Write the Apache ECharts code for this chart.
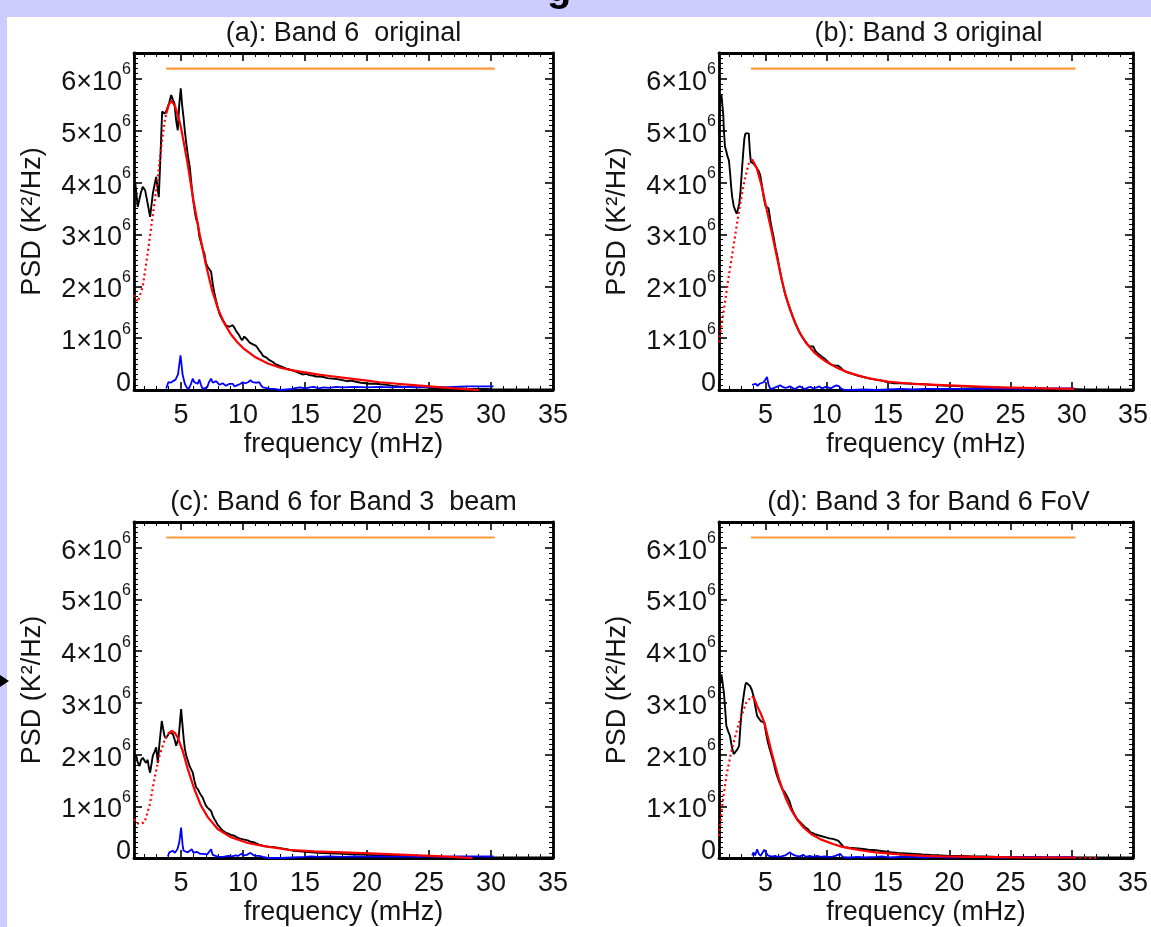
<!DOCTYPE html>
<html><head><meta charset="utf-8">
<script src="https://cdn.jsdelivr.net/npm/echarts@6/dist/echarts.min.js"></script>
<style>html,body{margin:0;padding:0;background:#fff;}#c{width:1151px;height:927px;}</style>
</head><body><div id="c"></div>
<script>
// PSD values in units of 10^6 K^2/Hz, frequency in mHz: [f, psd]
const xTickLabels = [5, 10, 15, 20, 25, 30, 35];
const yTickLabels = [0, 1, 2, 3, 4, 5, 6];
const titles = ['(a): Band 6  original', '(b): Band 3 original', '(c): Band 6 for Band 3  beam', '(d): Band 3 for Band 6 FoV'];
const fitRange = [3.8, 30.3];   // orange bar
const fitLevel = 6.2;

const blackA = [[1.2,3.9],[1.3,4.0],[1.5,3.53],[1.75,3.8],[1.91,3.92],[2.1,3.85],[2.3,3.6],[2.5,3.34],[2.72,3.79],[2.85,3.95],[2.99,4.11],[3.1,3.9],[3.2,3.72],[3.35,4.6],[3.47,5.37],[3.66,5.33],[3.8,5.38],[3.93,5.46],[4.05,5.55],[4.2,5.69],[4.33,5.6],[4.46,5.53],[4.6,5.2],[4.73,5.01],[4.85,5.5],[4.97,5.82],[5.08,5.5],[5.19,5.27],[5.3,5.0],[5.42,4.75],[5.56,4.5],[5.7,4.3],[5.82,4.0],[5.94,3.72],[6.1,3.45],[6.21,3.3],[6.34,3.21],[6.48,2.95],[6.6,2.85],[6.74,2.72],[6.88,2.63],[7.0,2.45],[7.15,2.37],[7.28,2.33],[7.42,2.28],[7.55,2.05],[7.69,1.86],[7.82,1.72],[7.95,1.6],[8.1,1.47],[8.23,1.4],[8.36,1.34],[8.5,1.3],[8.63,1.24],[8.76,1.21],[8.9,1.22],[9.03,1.2],[9.16,1.25],[9.3,1.2],[9.43,1.14],[9.57,1.12],[9.7,1.05],[9.8,1.0],[9.92,0.96],[10.0,0.98],[10.1,1.03],[10.2,1.0],[10.35,0.97],[10.5,0.92],[10.65,0.93],[10.8,0.88],[10.9,0.88],[11.05,0.85],[11.2,0.8],[11.3,0.76],[11.45,0.72],[11.6,0.66],[11.7,0.63],[11.85,0.63],[11.97,0.6],[12.1,0.58],[12.25,0.56],[12.4,0.54],[12.6,0.5],[12.9,0.47],[13.2,0.44],[13.5,0.41],[13.8,0.39],[14.0,0.38],[14.3,0.35],[14.5,0.33],[14.8,0.3],[15.1,0.31],[15.3,0.29],[15.6,0.28],[15.9,0.26],[16.15,0.26],[16.5,0.25],[16.8,0.23],[17.2,0.22],[17.6,0.21],[18.0,0.19],[18.4,0.17],[18.7,0.18],[19.1,0.16],[19.5,0.14],[19.9,0.13],[20.2,0.12],[20.7,0.12],[21.1,0.11],[21.6,0.1],[22.1,0.08],[22.6,0.07],[23.1,0.06],[23.6,0.06],[24.1,0.05],[24.6,0.05],[25.1,0.04],[25.6,0.04],[26.1,0.04],[26.6,0.03],[27.1,0.03],[27.6,0.03],[28.1,0.02],[28.6,0.02],[29.1,0.02],[29.6,0.02],[30.2,0.01],[31,0.01],[32,0.01],[33,0.01],[34,0.01],[35,0.01]];
const redDotA = [[1.2,1.83],[1.5,1.7],[1.9,1.99],[2.3,2.63],[2.7,3.34],[3.1,4.05],[3.4,4.69],[3.65,5.15],[3.8,5.33]];
const redA = [[3.8,5.33],[4.0,5.5],[4.2,5.58],[4.5,5.48],[4.8,5.25],[5.0,5.05],[5.5,4.4],[6.0,3.65],[6.5,3.0],[7.0,2.42],[7.5,1.92],[8.0,1.55],[8.5,1.28],[9.0,1.08],[9.5,0.93],[10,0.81],[11,0.63],[12,0.51],[13,0.43],[14,0.38],[15,0.34],[16,0.3],[17,0.27],[18,0.24],[19,0.21],[20,0.18],[21,0.15],[22,0.13],[23,0.11],[24,0.09],[25,0.07],[26,0.05],[27,0.03],[28,0.015],[29,0.0]];
const blueA = [[3.8,0.03],[3.97,0.15],[4.15,0.14],[4.3,0.12],[4.55,0.2],[4.75,0.3],[4.95,0.67],[5.12,0.3],[5.3,0.12],[5.45,0.05],[5.62,0.02],[5.8,0.12],[5.94,0.22],[6.07,0.15],[6.2,0.18],[6.33,0.12],[6.47,0.2],[6.6,0.1],[6.74,0.02],[6.9,0.02],[7.1,0.05],[7.25,0.15],[7.42,0.22],[7.55,0.14],[7.69,0.12],[7.82,0.17],[7.96,0.15],[8.1,0.1],[8.2,0.09],[8.35,0.13],[8.5,0.13],[8.63,0.08],[8.76,0.07],[8.9,0.12],[9.03,0.1],[9.16,0.12],[9.3,0.07],[9.43,0.05],[9.6,0.1],[9.8,0.12],[9.97,0.15],[10.1,0.12],[10.2,0.13],[10.4,0.15],[10.6,0.19],[10.75,0.15],[10.9,0.12],[11.1,0.14],[11.3,0.15],[11.45,0.09],[11.6,0.05],[11.8,0.04],[12.0,0.03],[12.2,0.02],[12.5,0.02],[13,0.0],[13.5,0.01],[14.0,0.02],[14.3,0.04],[14.6,0.05],[15,0.03],[15.4,0.05],[15.7,0.06],[16.1,0.03],[16.5,0.05],[17,0.04],[17.5,0.06],[18,0.05],[19,0.06],[20,0.05],[21,0.06],[22,0.05],[23,0.06],[24,0.05],[25,0.06],[26,0.05],[27,0.06],[28,0.07],[29,0.07],[30.2,0.07]];

const blackB = [[1.2,4.95],[1.3,5.6],[1.4,5.69],[1.47,5.69],[1.55,5.3],[1.6,5.0],[1.69,4.69],[1.8,4.6],[1.9,4.5],[2.01,4.43],[2.1,4.2],[2.2,3.9],[2.28,3.72],[2.4,3.55],[2.55,3.45],[2.65,3.4],[2.76,3.4],[2.86,3.6],[2.96,3.85],[3.06,4.2],[3.17,4.56],[3.27,4.85],[3.36,4.95],[3.5,4.95],[3.63,4.95],[3.72,4.6],[3.8,4.4],[3.9,4.38],[4.0,4.37],[4.15,4.33],[4.3,4.3],[4.45,4.22],[4.57,4.14],[4.7,3.95],[4.85,3.72],[4.95,3.6],[5.0,3.55],[5.12,3.56],[5.25,3.5],[5.39,3.27],[5.52,3.1],[5.66,2.95],[5.8,2.75],[5.93,2.62],[6.06,2.45],[6.2,2.27],[6.35,2.1],[6.5,1.95],[6.65,1.82],[6.8,1.7],[6.95,1.6],[7.1,1.5],[7.25,1.4],[7.42,1.3],[7.6,1.2],[7.8,1.1],[8.0,1.02],[8.2,0.95],[8.4,0.88],[8.6,0.84],[8.75,0.86],[8.9,0.84],[9.05,0.76],[9.2,0.72],[9.4,0.68],[9.6,0.64],[9.85,0.6],[10.1,0.54],[10.3,0.5],[10.5,0.48],[10.7,0.47],[10.9,0.47],[11.1,0.44],[11.3,0.39],[11.5,0.36],[11.8,0.33],[12.1,0.31],[12.5,0.28],[13,0.25],[13.5,0.22],[14,0.2],[14.5,0.18],[15,0.15],[15.5,0.13],[16,0.13],[17,0.12],[18,0.11],[19,0.09],[20,0.08],[21,0.07],[22,0.06],[23,0.05],[24,0.05],[25,0.04],[26,0.03],[27,0.03],[28,0.02],[29,0.02],[30,0.02],[31,0.01],[32,0.01],[33,0.01],[34,0.01],[35,0.01]];
const redDotB = [[1.2,0.92],[1.6,1.55],[2.0,2.2],[2.4,2.8],[2.8,3.4],[3.2,3.95],[3.6,4.35],[3.9,4.45]];
const redB = [[3.9,4.45],[4.0,4.43],[4.3,4.27],[4.7,3.92],[5.1,3.47],[5.5,3.05],[5.9,2.6],[6.3,2.15],[6.6,1.85],[7.0,1.55],[7.4,1.3],[7.8,1.1],[8.2,0.95],[8.6,0.83],[9.0,0.72],[9.5,0.62],[10.0,0.54],[10.5,0.47],[11,0.41],[11.5,0.36],[12,0.32],[13,0.25],[14,0.2],[15,0.16],[16,0.14],[17,0.12],[18,0.11],[19,0.1],[20,0.09],[22,0.07],[24,0.05],[26,0.04],[28,0.03],[30.2,0.02]];
const blueB = [[3.9,0.1],[4.04,0.1],[4.2,0.12],[4.35,0.08],[4.5,0.12],[4.65,0.1],[4.85,0.15],[5.0,0.18],[5.12,0.25],[5.25,0.1],[5.39,0.02],[5.6,0.03],[5.8,0.05],[6.0,0.07],[6.2,0.09],[6.4,0.06],[6.6,0.04],[6.8,0.05],[7.0,0.07],[7.2,0.04],[7.4,0.02],[7.6,0.05],[7.8,0.07],[8.0,0.04],[8.2,0.02],[8.5,0.05],[8.7,0.06],[8.9,0.03],[9.2,0.05],[9.4,0.07],[9.6,0.03],[9.9,0.06],[10.1,0.05],[10.3,0.03],[10.6,0.07],[10.8,0.09],[11.0,0.07],[11.2,0.02],[11.5,0.0],[12,0.0],[13,0.01],[14,0.0],[15,0.01],[16,0.02],[17,0.01],[18,0.02],[20,0.02],[22,0.02],[24,0.03],[26,0.02],[28,0.03],[30.2,0.03]];

const blackC = [[1.2,1.95],[1.38,1.98],[1.5,1.85],[1.64,1.78],[1.78,1.9],[1.91,1.94],[2.05,1.88],[2.18,1.84],[2.3,1.9],[2.4,1.75],[2.5,1.65],[2.6,1.8],[2.72,1.98],[2.85,2.05],[2.99,2.14],[3.12,1.84],[3.25,2.2],[3.44,2.65],[3.55,2.5],[3.66,2.36],[3.76,2.32],[3.85,2.3],[3.95,2.38],[4.06,2.43],[4.2,2.42],[4.33,2.4],[4.47,2.3],[4.6,2.17],[4.7,2.25],[4.79,2.3],[4.9,2.6],[5.0,2.88],[5.1,2.6],[5.21,2.3],[5.3,2.12],[5.41,1.98],[5.55,1.88],[5.68,1.78],[5.8,1.72],[5.94,1.65],[6.07,1.5],[6.21,1.37],[6.35,1.33],[6.48,1.27],[6.6,1.22],[6.74,1.17],[6.88,1.08],[7.01,1.01],[7.15,0.97],[7.28,0.95],[7.42,0.91],[7.55,0.82],[7.69,0.75],[7.82,0.7],[7.95,0.64],[8.1,0.6],[8.23,0.56],[8.4,0.52],[8.6,0.49],[8.76,0.47],[8.9,0.46],[9.1,0.44],[9.3,0.43],[9.5,0.4],[9.7,0.38],[9.84,0.37],[10.0,0.36],[10.2,0.35],[10.37,0.34],[10.55,0.32],[10.7,0.33],[10.9,0.3],[11.1,0.28],[11.3,0.26],[11.44,0.24],[11.7,0.23],[12.0,0.22],[12.5,0.21],[13.0,0.19],[13.5,0.17],[14.1,0.14],[14.6,0.13],[15.0,0.12],[15.5,0.11],[16,0.1],[17,0.09],[18,0.08],[19,0.07],[20,0.06],[21,0.05],[22,0.05],[23,0.04],[24,0.03],[25,0.03],[26,0.02],[27,0.02],[28,0.02],[29,0.01],[30,0.01],[31,0.01],[32,0.01],[33,0.01],[34,0.01],[35,0.01]];
const redDotC = [[1.2,0.75],[1.4,0.68],[1.64,0.66],[2.05,0.69],[2.45,1.01],[2.85,1.53],[3.25,1.98],[3.66,2.27],[3.93,2.4]];
const redC = [[3.93,2.4],[4.25,2.46],[4.5,2.42],[4.73,2.33],[5.13,2.07],[5.54,1.72],[6.07,1.33],[6.61,1.01],[7.15,0.79],[7.95,0.56],[9.03,0.4],[10.37,0.29],[11.7,0.23],[13.6,0.16],[15.74,0.13],[18,0.11],[20.2,0.09],[23.1,0.06],[26.1,0.03],[28.5,0.0]];
const blueC = [[3.93,0.03],[4.05,0.11],[4.33,0.14],[4.5,0.1],[4.7,0.17],[4.85,0.3],[5.0,0.59],[5.12,0.25],[5.2,0.14],[5.35,0.12],[5.54,0.11],[5.7,0.08],[5.86,0.17],[6.0,0.1],[6.1,0.08],[6.25,0.12],[6.4,0.14],[6.55,0.08],[6.67,0.05],[6.8,0.08],[6.95,0.1],[7.1,0.07],[7.25,0.1],[7.42,0.17],[7.55,0.06],[7.7,0.03],[8.0,0.02],[8.4,0.02],[8.8,0.04],[9.1,0.03],[9.4,0.05],[9.6,0.04],[9.84,0.08],[10.1,0.05],[10.3,0.06],[10.6,0.1],[10.8,0.06],[11.0,0.04],[11.3,0.04],[11.6,0.02],[12,0.0],[13,0.0],[14,0.01],[15,0.02],[15.5,0.03],[16,0.02],[17,0.03],[18,0.02],[19,0.03],[20,0.02],[21,0.03],[22,0.02],[23,0.03],[24,0.02],[25,0.03],[26,0.02],[27,0.03],[28,0.03],[29,0.03],[30.2,0.03]];

const blackD = [[1.2,3.05],[1.3,3.4],[1.4,3.55],[1.51,3.55],[1.6,3.2],[1.66,3.01],[1.8,2.56],[1.95,2.45],[2.1,2.36],[2.25,2.15],[2.4,2.01],[2.55,2.03],[2.7,2.1],[2.84,2.17],[2.95,2.55],[3.05,2.85],[3.14,3.01],[3.25,3.2],[3.35,3.35],[3.43,3.39],[3.58,3.37],[3.73,3.33],[3.88,3.25],[4.02,3.13],[4.15,2.95],[4.31,2.75],[4.46,2.7],[4.61,2.65],[4.76,2.64],[4.9,2.62],[5.05,2.4],[5.2,2.23],[5.35,2.1],[5.5,1.98],[5.65,1.85],[5.8,1.7],[5.94,1.59],[6.1,1.48],[6.25,1.4],[6.38,1.33],[6.55,1.28],[6.7,1.22],[6.83,1.2],[6.95,1.1],[7.1,0.98],[7.27,0.88],[7.42,0.82],[7.56,0.76],[7.7,0.72],[7.86,0.69],[8.0,0.65],[8.2,0.6],[8.45,0.56],[8.65,0.5],[8.85,0.48],[9.04,0.46],[9.3,0.44],[9.6,0.42],[9.93,0.4],[10.2,0.38],[10.5,0.37],[10.75,0.35],[10.95,0.33],[11.1,0.3],[11.25,0.25],[11.4,0.21],[11.8,0.2],[12.3,0.19],[12.8,0.18],[13.4,0.16],[14.0,0.15],[14.6,0.13],[15.2,0.11],[15.8,0.1],[16.5,0.09],[17.2,0.08],[17.8,0.07],[18.5,0.06],[19.3,0.05],[20,0.04],[21,0.04],[22,0.03],[23,0.03],[24,0.02],[25,0.02],[26,0.02],[27,0.02],[28,0.01],[29,0.01],[30,0.01],[31,0.01],[32,0.01],[33,0.01],[34,0.01],[35,0.01]];
const redDotD = [[1.2,0.43],[1.5,1.08],[1.8,1.59],[2.25,2.11],[2.84,2.62],[3.43,3.01],[3.88,3.13]];
const redD = [[3.88,3.13],[4.1,3.08],[4.31,2.94],[4.6,2.8],[4.9,2.62],[5.2,2.33],[5.5,2.04],[5.8,1.78],[6.09,1.53],[6.4,1.32],[6.68,1.14],[7.1,0.93],[7.56,0.75],[8.1,0.59],[8.74,0.46],[9.5,0.36],[10.5,0.27],[11.2,0.22],[12.0,0.18],[13,0.14],[14,0.11],[15,0.09],[16.4,0.06],[18,0.04],[19.3,0.03],[22.3,0.02],[26,0.01],[30.2,0.01]];
const redDotTailD = [[30.2,0.01],[32,0.0]];
const blueD = [[3.9,0.05],[4.02,0.11],[4.15,0.05],[4.31,0.17],[4.45,0.08],[4.6,0.04],[4.75,0.1],[4.9,0.16],[5.05,0.1],[5.2,0.05],[5.4,0.03],[5.6,0.03],[5.8,0.04],[6.0,0.02],[6.3,0.03],[6.6,0.05],[7.0,0.11],[7.2,0.07],[7.5,0.04],[7.8,0.03],[8.1,0.06],[8.3,0.02],[8.6,0.04],[8.9,0.02],[9.2,0.04],[9.5,0.02],[9.8,0.03],[10.1,0.02],[10.4,0.02],[10.7,0.04],[11.1,0.08],[11.3,0.02],[11.6,0.01],[12,0.01],[12.5,0.02],[13,0.01],[14,0.02],[14.5,0.03],[15,0.01],[16,0.02],[17,0.02],[18,0.01],[19,0.02],[20,0.01],[22,0.02],[24,0.01],[26,0.02],[28,0.01],[30.2,0.02]];

const FONT = 'Liberation Sans, Arial, Helvetica, sans-serif';
const TXT = '#141414';
const FS = 27;
const panels = [
  { title: titles[0], black: blackA, redDot: [redDotA], red: redA, blue: blueA, left: 134, top: 53 },
  { title: titles[1], black: blackB, redDot: [redDotB], red: redB, blue: blueB, left: 719, top: 53 },
  { title: titles[2], black: blackC, redDot: [redDotC], red: redC, blue: blueC, left: 134, top: 522 },
  { title: titles[3], black: blackD, redDot: [redDotD, redDotTailD], red: redD, blue: blueD, left: 719, top: 522 }
];
const W = 419, H = 337;

const grids = [], xAxes = [], yAxes = [], series = [], graphics = [];
graphics.push({ type: 'rect', shape: { x: 7, y: 17, width: 1144, height: 910 }, style: { fill: '#ffffff' }, z: -100, silent: true });
graphics.push({ type: 'text', x: 547, y: -30, style: { text: 'g', font: 'bold 40px ' + FONT, fill: '#000' }, z: -50, silent: true });
graphics.push({ type: 'polygon', shape: { points: [[0, 675], [9, 681], [0, 687]] }, style: { fill: '#000' }, z: -50, silent: true });

const xFmt = v => (xTickLabels.indexOf(Math.round(v * 1000) / 1000) >= 0 ? String(v) : '');
const yFmt = v => {
  const r = Math.round(v * 1000) / 1000;
  if (yTickLabels.indexOf(r) < 0) return '';
  if (r === 0) return '{z|0}';
  return '{m|' + r + '\u00d710}{s|6}';
};
const lineAxis = { show: true, onZero: false, lineStyle: { color: '#000', width: 2.8 } };
const tick = { show: true, inside: true, length: 8, lineStyle: { color: '#000', width: 1.6 } };

panels.forEach((p, i) => {
  grids.push({ left: p.left, top: p.top, width: W, height: H, containLabel: false });
  const xBase = { type: 'value', gridIndex: i, min: 1.2, max: 35, splitNumber: 7, splitLine: { show: false },
    axisLine: lineAxis, axisTick: tick,
    minorTick: { show: true, splitNumber: 5, length: 4, lineStyle: { color: '#000', width: 1 } } };
  xAxes.push(Object.assign({}, xBase, { position: 'bottom',
    axisLabel: { show: true, formatter: xFmt, fontSize: FS, fontFamily: FONT, color: TXT, margin: 12 },
    name: 'frequency (mHz)', nameLocation: 'middle', nameGap: 41,
    nameTextStyle: { fontSize: FS, fontFamily: FONT, color: TXT } }));
  xAxes.push(Object.assign({}, xBase, { position: 'top', axisLabel: { show: false } }));
  const yBase = { type: 'value', gridIndex: i, min: 0, max: 6.5, interval: 1, splitLine: { show: false },
    axisLine: lineAxis, axisTick: tick,
    minorTick: { show: true, splitNumber: 10, length: 4, lineStyle: { color: '#000', width: 1 } } };
  yAxes.push(Object.assign({}, yBase, { position: 'left',
    axisLabel: { show: true, formatter: yFmt, margin: 3, color: TXT, fontFamily: FONT,
      rich: {
        z: { fontSize: FS, fontFamily: FONT, color: TXT, padding: [0, 0, 12, 0] },
        m: { fontSize: FS, fontFamily: FONT, color: TXT, lineHeight: 34, verticalAlign: 'bottom' },
        s: { fontSize: 16, fontFamily: FONT, color: TXT, lineHeight: 34, verticalAlign: 'top' }
      } },
    name: 'PSD (K\u00b2/Hz)', nameLocation: 'middle', nameGap: 88, nameRotate: 90,
    nameTextStyle: { fontSize: FS, fontFamily: FONT, color: TXT } }));
  yAxes.push(Object.assign({}, yBase, { position: 'right', axisLabel: { show: false } }));

  const base = { type: 'line', xAxisIndex: 2 * i, yAxisIndex: 2 * i, showSymbol: false, symbol: 'none', animation: false, silent: true };
  series.push(Object.assign({}, base, { data: p.black, lineStyle: { color: '#000000', width: 1.9 }, z: 2 }));
  series.push(Object.assign({}, base, { data: p.blue, lineStyle: { color: '#0000ff', width: 1.8 }, z: 3 }));
  p.redDot.forEach(d => series.push(Object.assign({}, base, { data: d, lineStyle: { color: '#ff0000', width: 2.2, type: [2, 3] }, z: 4 })));
  series.push(Object.assign({}, base, { data: p.red, lineStyle: { color: '#ff0000', width: 2.2 }, z: 4 }));
  series.push(Object.assign({}, base, { data: [[fitRange[0], fitLevel], [fitRange[1], fitLevel]], lineStyle: { color: '#ff9a3c', width: 2.2 }, z: 5 }));

  graphics.push({ type: 'text', x: p.left + W / 2, y: p.top - 19,
    style: { text: p.title, font: FS + 'px ' + FONT, fill: TXT, align: 'center', verticalAlign: 'middle' }, silent: true });
});

const chart = echarts.init(document.getElementById('c'), null, { renderer: 'canvas' });
chart.setOption({
  backgroundColor: '#ccccff',
  animation: false,
  grid: grids, xAxis: xAxes, yAxis: yAxes, series: series, graphic: graphics
});
</script></body></html>
